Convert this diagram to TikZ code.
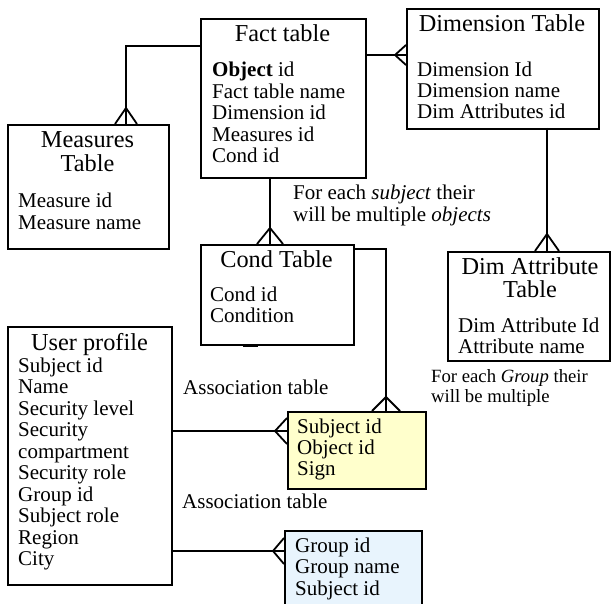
\documentclass[tikz,border=0pt]{standalone}
\usepackage{fontspec}
\setmainfont{Liberation Serif}
\begin{document}
\begin{tikzpicture}[x=1pt,y=-1pt]
\tikzset{
  box/.style={draw, line width=1.8pt, anchor=north west, inner sep=0pt},
  conn/.style={line width=1.8pt},
  item/.style={anchor=base west, inner sep=0pt, font=\fontsize{21}{22}\selectfont},
  ttl/.style={anchor=base, inner sep=0pt, font=\fontsize{24.3}{26}\selectfont},
  note/.style={anchor=base west, inner sep=0pt, font=\fontsize{18.7}{20}\selectfont},
}
\useasboundingbox (0,0) rectangle (611,604);
\clip (0,0) rectangle (611,604);
% boxes
\node[box, minimum width=165pt, minimum height=159pt] (fact) at (200,18) {};
\node[box, minimum width=192pt, minimum height=120pt] (dim) at (406,8) {};
\node[box, minimum width=161pt, minimum height=124pt] (meas) at (7,124) {};
\node[box, minimum width=153pt, minimum height=100pt] (cond) at (200,244) {};
\node[box, minimum width=162pt, minimum height=109pt] (dattr) at (447,251) {};
\node[box, minimum width=164pt, minimum height=258pt] (user) at (7,326) {};
\node[box, fill={rgb,255:red,255;green,255;blue,204}, minimum width=138pt, minimum height=77pt] (assoc) at (287,411) {};
\node[box, fill={rgb,255:red,232;green,244;blue,253}, minimum width=137pt, minimum height=100pt] (grp) at (284,530) {};
% connector end points
\coordinate (fw) at (fact.west |- 0,46);
\coordinate (mn) at (126,124);
\coordinate (fe) at (fact.east |- 0,55);
\coordinate (dw) at (dim.west |- 0,55);
\coordinate (fs) at (270,177);
\coordinate (cn) at (270,244);
\coordinate (ds) at (547,128);
\coordinate (an) at (547,251);
\coordinate (ce) at (cond.east |- 0,249);
\coordinate (yn) at (386,411);
\coordinate (ue1) at (user.east |- 0,431);
\coordinate (yw) at (assoc.west |- 0,431);
\coordinate (ue2) at (user.east |- 0,551);
\coordinate (bw) at (grp.west |- 0,551);
% connectors
\draw[conn] (fw) -| (mn);
\draw[conn] (fe) -- (dw);
\draw[conn] (fs) -- (cn);
\draw[conn] (ds) -- (an);
\draw[conn] (ce) -| (yn);
\draw[conn] (ue1) -- (yw);
\draw[conn] (ue2) -- (bw);
% crow's feet
\draw[conn] ([xshift=-11pt]mn) -- ([yshift=16pt]mn) -- ([xshift=11pt]mn);
\draw[conn] ([yshift=10pt]dw) -- ([xshift=-11pt]dw) -- ([yshift=-10pt]dw);
\draw[conn] ([xshift=-13pt]cn) -- ([yshift=16pt]cn) -- ([xshift=13pt]cn);
\draw[conn] ([xshift=-12pt]an) -- ([yshift=17pt]an) -- ([xshift=12pt]an);
\draw[conn] ([xshift=-14pt]yn) -- ([yshift=14pt]yn) -- ([xshift=14pt]yn);
\draw[conn] ([yshift=13pt]yw) -- ([xshift=-12pt]yw) -- ([yshift=-13pt]yw);
\draw[conn] ([yshift=13pt]bw) -- ([xshift=-11pt]bw) -- ([yshift=-13pt]bw);
% small mark on cond bottom
\draw[line width=3.2pt] ([xshift=-34pt]cond.south) -- ([xshift=-19pt]cond.south);
% Fact table text
\node[ttl] (ft) at (282.5,42) {Fact table};
\node[item] (f1) at (212,77) {\textbf{Object} id};
\node[item] (f2) at (212,98.5) {Fact table name};
\node[item] (f3) at (212,120) {Dimension id};
\node[item] (f4) at (212,141.5) {Measures id};
\node[item] (f5) at (212,163) {Cond id};
% Dimension table
\node[ttl] (dt) at (502,32) {Dimension Table};
\node[item] (d1) at (417,77) {Dimension Id};
\node[item] (d2) at (417,98) {Dimension name};
\node[item] (d3) at (417,119) {Dim Attributes id};
% Measures table
\node[ttl] (mt1) at (87.5,148) {Measures};
\node[ttl] (mt2) at (87.5,172) {Table};
\node[item] (m1) at (18,208) {Measure id};
\node[item] (m2) at (18,230) {Measure name};
% Cond table
\node[ttl] (ct) at (276.5,268) {Cond Table};
\node[item] (c1) at (210,302) {Cond id};
\node[item] (c2) at (210,323) {Condition};
% Dim attribute table
\node[ttl] (at1) at (530,275) {Dim Attribute};
\node[ttl] (at2) at (530,298) {Table};
\node[item] (a1) at (458,333) {Dim Attribute Id};
\node[item] (a2) at (458,354) {Attribute name};
% User profile
\node[ttl] (ut) at (89.5,350) {User profile};
\node[item] (u1) at (18,372) {Subject id};
\node[item] (u2) at (18,393.5) {Name};
\node[item] (u3) at (18,415) {Security level};
\node[item] (u4) at (18,436.5) {Security};
\node[item] (u5) at (18,458) {compartment};
\node[item] (u6) at (18,479.5) {Security role};
\node[item] (u7) at (18,501) {Group id};
\node[item] (u8) at (18,522.5) {Subject role};
\node[item] (u9) at (18,544) {Region};
\node[item] (u10) at (18,565.5) {City};
% association (yellow)
\node[item] (y1) at (297,433) {Subject id};
\node[item] (y2) at (297,454) {Object id};
\node[item] (y3) at (297,475.5) {Sign};
% group (blue)
\node[item] (b1) at (295,552) {Group id};
\node[item] (b2) at (295,573.5) {Group name};
\node[item] (b3) at (295,595) {Subject id};
% notes
\node[item] (n1) at (293,200) {For each \textit{subject} their};
\node[item] (n2) at (293,222) {will be multiple \textit{objects}};
\node[note] (n3) at (431,382) {For each \textit{Group} their};
\node[note] (n4) at (431,402) {will be multiple};
\node[item] (l1) at (183,394) {Association table};
\node[item] (l2) at (182,508) {Association table};
\end{tikzpicture}
\end{document}
